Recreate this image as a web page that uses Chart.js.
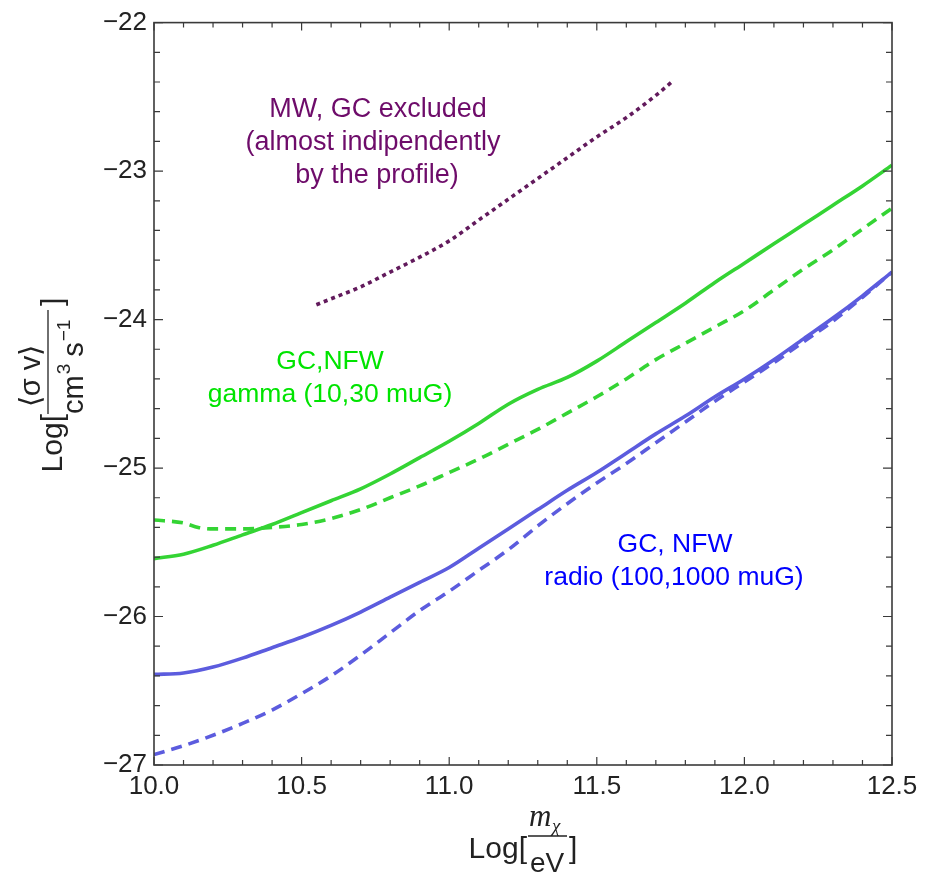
<!DOCTYPE html>
<html>
<head>
<meta charset="utf-8">
<script src="https://cdn.jsdelivr.net/npm/chart.js@4.4.1/dist/chart.umd.min.js"></script>
<style>
  html, body { margin: 0; padding: 0; background: #fff; }
  #wrap { width: 936px; height: 882px; }
</style>
</head>
<body>
<div id="wrap"><canvas id="sigmaChart" width="936" height="882"></canvas></div>
<script>
// Log10(m_chi / eV) sample points
const massGrid = [10.0, 10.1, 10.2, 10.3, 10.4, 10.5, 10.6, 10.7, 10.8, 10.9, 11.0, 11.1, 11.2,
                  11.3, 11.4, 11.5, 11.6, 11.7, 11.8, 11.9, 12.0, 12.1, 12.2, 12.3, 12.4, 12.5]

// GC, NFW gamma (10 muG solid, 30 muG dashed)
const gammaSolid = [-25.61, -25.58, -25.52, -25.45, -25.38, -25.30, -25.22, -25.14, -25.04, -24.93,
                    -24.82, -24.70, -24.57, -24.47, -24.39, -24.28, -24.15, -24.02, -23.89, -23.75,
                    -23.62, -23.49, -23.36, -23.23, -23.10, -22.96]
const gammaDashedMass = [10.0, 10.1, 10.15, 10.2, 10.3, 10.4, 10.5, 10.6, 10.7, 10.8, 10.9, 11.0, 11.1, 11.2,
                         11.3, 11.4, 11.5, 11.6, 11.7, 11.8, 11.9, 12.0, 12.1, 12.2, 12.3, 12.4, 12.5]
const gammaDashed = [-25.35, -25.37, -25.40, -25.41, -25.41, -25.40, -25.38, -25.34, -25.28, -25.20,
                     -25.12, -25.03, -24.94, -24.84, -24.74, -24.63, -24.52, -24.40, -24.27, -24.16,
                     -24.05, -23.94, -23.80, -23.66, -23.53, -23.39, -23.25]

// GC, NFW radio (100 muG solid, 1000 muG dashed)
const radioSolid = [-26.39, -26.38, -26.34, -26.28, -26.21, -26.14, -26.06, -25.97, -25.87, -25.77,
                    -25.67, -25.54, -25.41, -25.28, -25.15, -25.03, -24.90, -24.77, -24.65, -24.52,
                    -24.40, -24.27, -24.13, -23.99, -23.84, -23.68]
const radioDashed = [-26.93, -26.87, -26.80, -26.72, -26.63, -26.52, -26.40, -26.26, -26.11, -25.96,
                     -25.83, -25.69, -25.55, -25.39, -25.24, -25.10, -24.97, -24.83, -24.69, -24.55,
                     -24.42, -24.29, -24.15, -24.01, -23.85, -23.68]

// MW, GC excluded
const mwMass = [10.55, 10.6, 10.7, 10.8, 10.9, 11.0, 11.1, 11.2, 11.3, 11.4, 11.5, 11.6, 11.7, 11.76]
const mwValues = [-23.90, -23.86, -23.78, -23.68, -23.58, -23.47, -23.33, -23.19, -23.05, -22.91,
                  -22.77, -22.64, -22.49, -22.39]

const xTicks = [10.0, 10.5, 11.0, 11.5, 12.0, 12.5]
const yTicks = [-27, -26, -25, -24, -23, -22]

const pairs = (xs, ys) => xs.map((x, i) => ({x: x, y: ys[i]}))

const green = 'rgb(52, 212, 52)'
const blue = 'rgb(92, 92, 222)'
const purple = 'rgb(98, 26, 92)'
const axisColor = '#3a3a3a'
const sans = '"Liberation Sans", Arial, sans-serif'
const tickFont = {family: sans, size: 26}

function lineSet(label, data, color, dash) {
    return {
        label: label,
        data: data,
        borderColor: color,
        borderWidth: 3.6,
        borderDash: dash,
        pointRadius: 0,
        fill: false,
        cubicInterpolationMode: 'monotone'
    }
}

// frame with inward ticks, like the original plot
const frameTicks = {
    id: 'frameTicks',
    afterDatasetsDraw(chart) {
        const c = chart.ctx
        const a = chart.chartArea
        const xs = chart.scales.x
        const ys = chart.scales.y
        c.save()
        c.strokeStyle = axisColor
        c.lineWidth = 1.6
        c.strokeRect(a.left, a.top, a.right - a.left, a.bottom - a.top)
        c.lineWidth = 1.2
        c.beginPath()
        for (let i = 0; i <= 25; i++) {
            const v = 10 + i * 0.1
            const px = xs.getPixelForValue(v)
            const len = i % 5 === 0 ? 8 : 5
            c.moveTo(px, a.bottom); c.lineTo(px, a.bottom - len)
            c.moveTo(px, a.top); c.lineTo(px, a.top + len)
        }
        for (let i = 0; i <= 25; i++) {
            const v = -27 + i * 0.2
            const py = ys.getPixelForValue(v)
            const len = i % 5 === 0 ? 9 : 6
            c.moveTo(a.left, py); c.lineTo(a.left + len, py)
            c.moveTo(a.right, py); c.lineTo(a.right - len, py)
        }
        c.stroke()
        c.restore()
    },
    afterDraw(chart) {
        const c = chart.ctx
        c.save()
        c.textAlign = 'center'
        c.textBaseline = 'middle'
        c.font = '27px ' + sans
        c.fillStyle = 'rgb(110, 12, 106)'
        c.fillText('MW, GC excluded', 378, 110)
        c.fillText('(almost indipendently', 373, 143)
        c.fillText('by the profile)', 377, 176)
        c.font = '26.5px ' + sans
        c.fillStyle = 'rgb(0, 228, 0)'
        c.fillText('GC,NFW', 330, 362)
        c.fillText('gamma (10,30 muG)', 330, 395)
        c.fillStyle = 'rgb(0, 0, 255)'
        c.fillText('GC, NFW', 675, 545)
        c.fillText('radio (100,1000 muG)', 674, 578)

        // x axis title: Log[ m_chi / eV ]
        c.fillStyle = '#222'
        c.strokeStyle = '#222'
        c.lineWidth = 1.3
        c.textBaseline = 'alphabetic'
        c.textAlign = 'right'
        c.font = '30px ' + sans
        c.fillText('Log[', 527, 858)
        c.textAlign = 'left'
        c.fillText(']', 569, 858)
        c.beginPath(); c.moveTo(528, 836); c.lineTo(567, 836); c.stroke()
        c.font = 'italic 31px "Liberation Serif", "Times New Roman", serif'
        c.fillText('m', 529, 826)
        c.font = 'italic 19px "Liberation Serif", "Times New Roman", serif'
        c.fillText('\u03c7', 552, 832)
        c.font = '28px ' + sans
        c.textAlign = 'center'
        c.fillText('eV', 547, 872)

        // y axis title, rotated: Log[ <sigma v> / (cm^3 s^-1) ]
        c.rotate(-Math.PI / 2)
        c.textAlign = 'right'
        c.font = '30px ' + sans
        c.fillText('Log[', -414, 62)
        c.textAlign = 'left'
        c.fillText(']', -306, 62)
        c.beginPath(); c.moveTo(-414, 48); c.lineTo(-310, 48); c.stroke()
        c.textAlign = 'center'
        c.font = '29px ' + sans
        c.fillText('\u27e8\u03c3 v\u27e9', -376, 40)
        // denominator cm^3 s^-1
        c.textAlign = 'left'
        let u = -414
        c.fillText('cm', u, 83); u += c.measureText('cm').width + 1
        c.font = '19px ' + sans
        c.fillText('3', u, 70); u += c.measureText('3').width + 7
        c.font = '29px ' + sans
        c.fillText('s', u, 83); u += c.measureText('s').width + 1
        c.font = '19px ' + sans
        c.fillText('\u22121', u, 70)
        c.restore()
    }
}

const chartConfig = {
    type: 'line',
    data: {
        datasets: [
            lineSet('MW, GC excluded', pairs(mwMass, mwValues), purple, [4, 4]),
            lineSet('gamma 10 muG', pairs(massGrid, gammaSolid), green, []),
            lineSet('gamma 30 muG', pairs(gammaDashedMass, gammaDashed), green, [11, 7]),
            lineSet('radio 100 muG', pairs(massGrid, radioSolid), blue, []),
            lineSet('radio 1000 muG', pairs(massGrid, radioDashed), blue, [11, 7])
        ]
    },
    options: {
        responsive: false,
        animation: false,
        layout: {padding: {top: 18, right: 44, left: 0, bottom: 0}},
        plugins: {legend: {display: false}, tooltip: {enabled: false}},
        scales: {
            x: {
                type: 'linear',
                min: 10, max: 12.5,
                grid: {display: false, drawTicks: false},
                border: {display: false},
                afterBuildTicks: s => { s.ticks = xTicks.map(v => ({value: v})) },
                afterFit: s => { s.height = 117 },
                ticks: {
                    color: '#222', font: tickFont, padding: 6, maxRotation: 0,
                    callback: v => Number(v).toFixed(1)
                }
            },
            y: {
                type: 'linear',
                min: -27, max: -22,
                grid: {display: false, drawTicks: false},
                border: {display: false},
                afterBuildTicks: s => { s.ticks = yTicks.map(v => ({value: v})) },
                afterFit: s => { s.width = 154 },
                ticks: {
                    color: '#222', font: tickFont, padding: 7,
                    callback: v => '\u2212' + Math.abs(v)
                }
            }
        }
    },
    plugins: [frameTicks]
}

const sigmaChart = new Chart(document.getElementById('sigmaChart'), chartConfig)
</script>
</body>
</html>
